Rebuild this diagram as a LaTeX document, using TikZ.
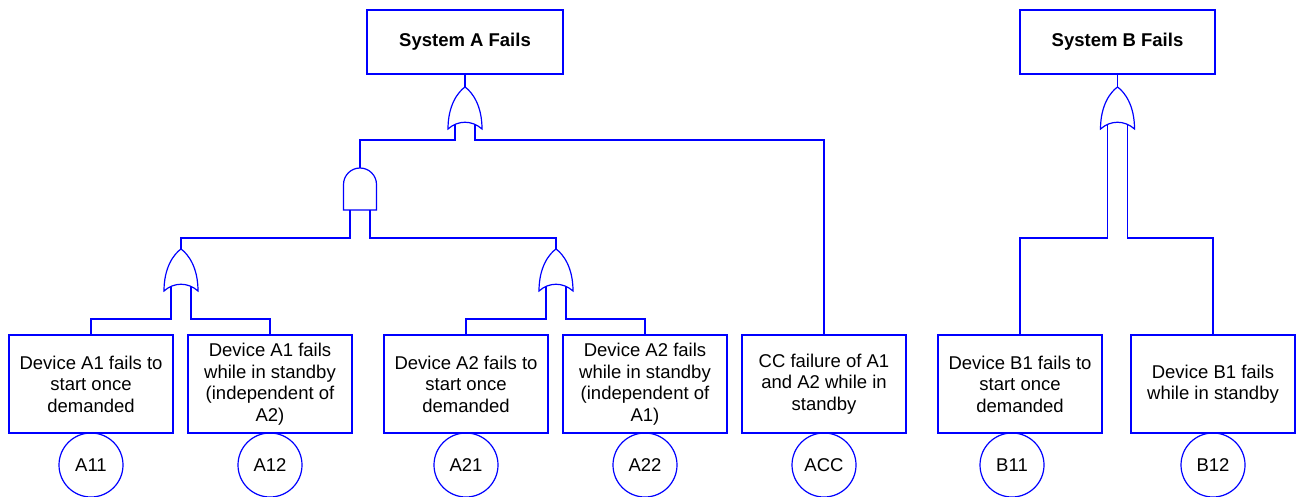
\documentclass[tikz,border=0pt]{standalone}
\usepackage{fontspec}
\setmainfont{Liberation Sans}
\usetikzlibrary{positioning}
\tikzset{
  liga/.style={draw=blue, line width=1.2pt},
  caixa/.style={liga, minimum width=164pt, minimum height=98pt, inner sep=0pt, outer sep=0pt, align=center, font=\fontsize{18.5}{21.5}\selectfont},
  topo/.style={liga, minimum width=#1, minimum height=64pt, inner sep=0pt, outer sep=0pt, font=\fontsize{18.5}{21.5}\selectfont\bfseries},
  topo/.default=196pt,
  evento/.style={liga, circle, minimum size=64pt, inner sep=0pt, outer sep=0pt, font=\fontsize{18.5}{21.5}\selectfont},
  portaou/.pic={
    \draw[liga] (0,0) .. controls (-7,5) and (-17,18) .. (-17,42)
      .. controls (-7,33) and (7,33) .. (17,42)
      .. controls (17,18) and (7,5) .. cycle;
    \coordinate (-out) at (0,0);
    \coordinate (-in1) at (-10,37.5);
    \coordinate (-in2) at (10,37.5);
  },
  portae/.pic={
    \draw[liga] (-16.5,42) -- (-16.5,16.5) .. controls (-16.5,7.4) and (-9.1,0) .. (0,0)
      .. controls (9.1,0) and (16.5,7.4) .. (16.5,16.5) -- (16.5,42) -- cycle;
    \coordinate (-out) at (0,0);
    \coordinate (-in1) at (-10,42);
    \coordinate (-in2) at (10,42);
  },
}
\begin{document}
\begin{tikzpicture}[x=1pt, y=-1pt]
  \useasboundingbox (0,0) rectangle (1297,497);
  % topos
  \node[topo=196pt] (sa) at (465,42) {System A Fails};
  \node[topo=195pt] (sb) at (1117.5,42) {System B Fails};
  % eventos basicos
  \node[caixa] (a11) at (91,384) {Device A1 fails to\\start once\\demanded};
  \node[caixa, right=15pt of a11] (a12) {Device A1 fails\\while in standby\\(independent of\\A2)};
  \node[caixa, right=32pt of a12] (a21) {Device A2 fails to\\start once\\demanded};
  \node[caixa, right=15pt of a21] (a22) {Device A2 fails\\while in standby\\(independent of\\A1)};
  \node[caixa, right=15pt of a22] (acc) {CC failure of A1\\and A2 while in\\standby};
  \node[caixa, right=32pt of acc] (b11) {Device B1 fails to\\start once\\demanded};
  \node[caixa, right=29pt of b11] (b12) {Device B1 fails\\while in standby};
  \node[evento, below=0pt of a11] (ca11) {A11};
  \node[evento, below=0pt of a12] (ca12) {A12};
  \node[evento, below=0pt of a21] (ca21) {A21};
  \node[evento, below=0pt of a22] (ca22) {A22};
  \node[evento, below=0pt of acc] (cacc) {ACC};
  \node[evento, below=0pt of b11, xshift=-8pt] (cb11) {B11};
  \node[evento, below=0pt of b12] (cb12) {B12};
  % portas
  \pic (gA) at ([yshift=-13pt]sa.south) {portaou};
  \pic (gAnd) at (360,168) {portae};
  \pic (g1) at (181,249) {portaou};
  \pic (g2) at (556,249) {portaou};
  \pic (gB) at ([yshift=-13pt]sb.south) {portaou};
  % ligacoes
  \draw[liga] (sa.south) -- (gA-out);
  \draw[liga] (sb.south) -- (gB-out);
  \draw[liga] (gA-in1) -- ++(0,15.5) -| (gAnd-out);
  \draw[liga] (gA-in2) -- ++(0,15.5) -| (acc.north);
  \draw[liga] (gAnd-in1) -- ++(0,28) -| (g1-out);
  \draw[liga] (gAnd-in2) -- ++(0,28) -| (g2-out);
  \draw[liga] (g1-in1) -- ++(0,32.5) -| (a11.north);
  \draw[liga] (g1-in2) -- ++(0,32.5) -| (a12.north);
  \draw[liga] (g2-in1) -- ++(0,32.5) -| (a21.north);
  \draw[liga] (g2-in2) -- ++(0,32.5) -| (a22.north);
  \draw[liga] (gB-in1) -- ++(0,113.5) -| (b11.north);
  \draw[liga] (gB-in2) -- ++(0,113.5) -| (b12.north);
\end{tikzpicture}
\end{document}
